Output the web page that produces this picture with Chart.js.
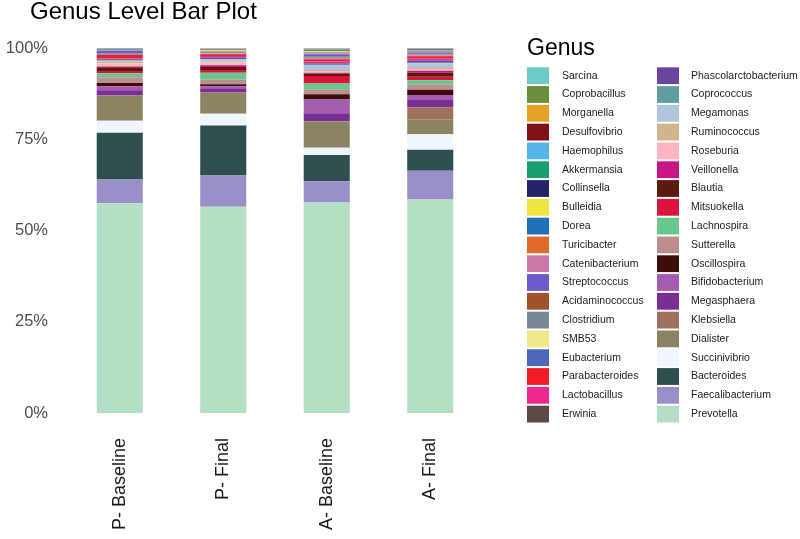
<!DOCTYPE html>
<html>
<head>
<meta charset="utf-8">
<script src="https://cdn.jsdelivr.net/npm/chart.js@4/dist/chart.umd.min.js"></script>
<style>
  html, body { margin: 0; padding: 0; background: #ffffff; }
  #wrap { width: 800px; height: 539px; position: relative; }
</style>
</head>
<body>
<div id="wrap"><canvas id="c" width="800" height="539"></canvas></div>
<script>
// ---- DATA ----
const categories = ["P- Baseline", "P- Final", "A- Baseline", "A- Final"];

// stacking order: bottom -> top
const genera = ["Prevotella","Faecalibacterium","Bacteroides","Succinivibrio","Dialister","Klebsiella",
  "Megasphaera","Bifidobacterium","Oscillospira","Sutterella","Lachnospira","Mitsuokella","Blautia",
  "Veillonella","Roseburia","Ruminococcus","Megamonas","Coprococcus","Phascolarctobacterium","Erwinia",
  "Lactobacillus","Parabacteroides","Eubacterium","SMB53","Clostridium","Acidaminococcus","Streptococcus",
  "Catenibacterium","Turicibacter","Dorea","Bulleidia","Collinsella","Akkermansia","Haemophilus",
  "Desulfovibrio","Morganella","Coprobacillus","Sarcina"];

const generaColors = ["#b3dfc4","#9a8fc8","#2f4f4f","#f0f6ff","#8b8463","#a0715a",
  "#7a2e95","#a35cb0","#3d0c0c","#bc8f8f","#66c88c","#dc143c","#5c1a0b",
  "#c71585","#ffb6c1","#d2b48c","#b0c4de","#5f9ea0","#6a45a0","#5e4a45",
  "#ec2790","#f01e24","#4a67bd","#f0e68c","#778899","#a0522d","#6a5acd",
  "#cc79a7","#e06a2c","#1f72b8","#f0e442","#27236b","#1a9e72","#56b4e9",
  "#7f1418","#e8a126","#6a8e3a","#6ccbc5"];

// relative abundance (%) per sample, aligned with `genera`
const pBaseline = [57.5,6.5,12.8,3.3,6.8,0.1, 1.4,1.1,0.9,1.6,1.1,0.6,1.0, 0.2,0.9,0.4,0.3,0.2,0.2,0.1,
  0.1,1.0,0.1,0.05,0.3,0.1,0.6, 0.15,0.05,0.05,0.05,0.05,0.05,0.15, 0.05,0.05,0.03,0.1];
const pFinal    = [56.5,8.6,13.7,3.2,5.7,0.1, 1.0,0.7,0.6,1.3,1.8,0.8,0.8, 0.5,0.7,0.3,0.6,0.1,0.4,0.1,
  0.3,0.5,0.1,0.1,0.2,0.1,0.2, 0.1,0.05,0.05,0.2,0.05,0.05,0.1, 0.1,0.1,0.05,0.2];
const aBaseline = [57.7,5.8,7.2,2.0,7.2,0.1, 2.1,3.8,1.4,1.4,1.6,2.0,0.7, 0.2,0.5,0.3,1.2,0.2,0.3,0.1,
  0.5,0.6,0.2,0.1,0.3,0.2,0.6, 0.2,0.1,0.2,0.4,0.1,0.1,0.2, 0.1,0.1,0.05,0.2];
const aFinal    = [58.5,7.9,5.75,4.2,4.1,3.3, 2.0,1.4,1.4,1.4,1.2,1.0,1.1, 0.5,0.5,0.3,1.3,0.1,0.6,0.1,
  0.5,0.6,0.1,0.1,0.2,0.1,0.3, 0.4,0.1,0.1,0.1,0.05,0.1,0.1, 0.2,0.05,0.05,0.2];

const yTicks = [0, 25, 50, 75, 100];

// ---- BUILD ----
const samples = [pBaseline, pFinal, aBaseline, aFinal];
const datasets = genera.map((g, i) => ({
  label: g,
  data: samples.map(s => s[i]),
  backgroundColor: generaColors[i],
  borderWidth: 0,
  barPercentage: 0.445,
  categoryPercentage: 1.0
}));

const FONT = '"Liberation Sans", Arial, Helvetica, sans-serif';

const decorPlugin = {
  id: 'decor',
  afterDraw(chart) {
    const ctx = chart.ctx;
    ctx.save();
    // Title
    ctx.fillStyle = '#000000';
    ctx.font = '24px ' + FONT;
    ctx.textAlign = 'left';
    ctx.textBaseline = 'middle';
    ctx.fillText('Genus Level Bar Plot', 30, 12);
    // Legend title
    ctx.font = '23px ' + FONT;
    ctx.fillText('Genus', 527, 49);
    // Legend items (reverse of stacking order), column-major, 19 rows
    const ds = chart.data.datasets.slice().reverse();
    const rows = 19, rowH = 18.8, y0 = 75.7;
    const colX = [527, 657], textX = [562, 691];
    ctx.font = '10.5px ' + FONT;
    ds.forEach((d, k) => {
      const col = Math.floor(k / rows), row = k % rows;
      const cy = y0 + row * rowH;
      ctx.fillStyle = d.backgroundColor;
      ctx.fillRect(colX[col], cy - 8.4, 22, 16.8);
      ctx.fillStyle = '#1a1a1a';
      ctx.fillText(d.label, textX[col], cy);
    });
    ctx.restore();
  }
};

new Chart(document.getElementById('c'), {
  type: 'bar',
  data: { labels: categories, datasets },
  options: {
    responsive: false,
    animation: false,
    devicePixelRatio: 1,
    layout: { padding: { top: 48, right: 318, left: 0, bottom: 0 } },
    plugins: { legend: { display: false }, title: { display: false }, tooltip: { enabled: false } },
    scales: {
      x: {
        stacked: true,
        grid: { display: false },
        border: { display: false },
        ticks: {
          minRotation: 90, maxRotation: 90, padding: 17,
          color: '#1a1a1a', font: { family: FONT, size: 18 }
        },
        afterFit(scale) { scale.height = 126; }
      },
      y: {
        stacked: true,
        min: 0, max: 100,
        grid: { display: false },
        border: { display: false },
        afterBuildTicks(scale) { scale.ticks = yTicks.map(v => ({ value: v })); },
        ticks: {
          padding: 12,
          color: '#4d4d4d',
          font: { family: FONT, size: 16.5 },
          callback: v => v + '%'
        },
        afterFit(scale) { scale.width = 68; }
      }
    }
  },
  plugins: [decorPlugin]
});
</script>
</body>
</html>
